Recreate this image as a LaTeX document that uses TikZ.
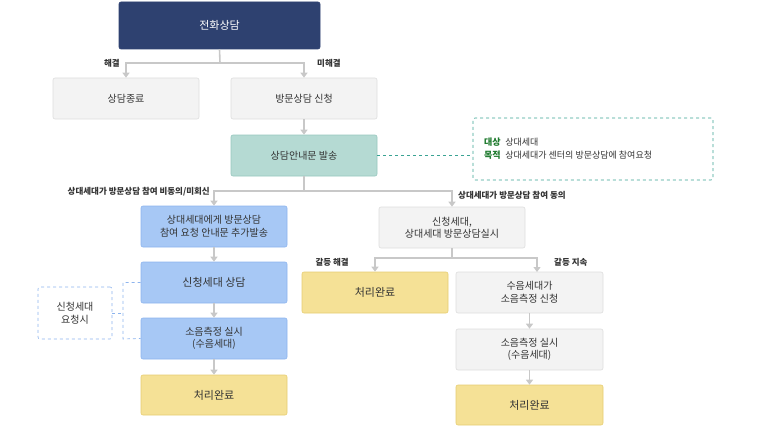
\documentclass[tikz,border=0pt]{standalone}
\usepackage{fontspec}
\setmainfont{Noto Sans CJK KR}
\usetikzlibrary{arrows.meta}
\definecolor{navy}{HTML}{2E4170}
\definecolor{gfill}{HTML}{F3F3F3}\definecolor{gline}{HTML}{DDDDDD}
\definecolor{tfill}{HTML}{B5DAD3}\definecolor{tline}{HTML}{96C7BE}
\definecolor{bfill}{HTML}{A7C8F5}\definecolor{bline}{HTML}{8DB4EE}
\definecolor{yfill}{HTML}{F5E196}\definecolor{yline}{HTML}{E6CD72}
\definecolor{arr}{HTML}{C8C8C8}\definecolor{dteal}{HTML}{3AA393}
\definecolor{dgreen}{HTML}{1E7A2E}\definecolor{txt}{HTML}{333333}
\begin{document}
\begin{tikzpicture}[x=1pt,y=-1pt,
 bx/.style={draw,rounded corners=2pt,line width=0.6pt,align=center,font=\fontsize{10}{12.5}\selectfont,text=txt,inner sep=0pt},
 gb/.style={bx,fill=gfill,draw=gline},
 tb/.style={bx,fill=tfill,draw=tline},
 bb/.style={bx,fill=bfill,draw=bline},
 yb/.style={bx,fill=yfill,draw=yline},
 ar/.style={draw=arr,line width=1.6pt,-{Triangle[width=7pt,length=5pt]}},
 ln/.style={draw=arr,line width=1.6pt},
 lab/.style={font=\bfseries\fontsize{8.5}{10}\selectfont,text=txt,inner sep=1pt}]
\useasboundingbox (0,0) rectangle (758,444);
\newcommand\bxat[6]{\node[#1,minimum width=#4-#2,minimum height=#5-#3] (#6) at ({(#2+#4)/2},{(#3+#5)/2})}
\bxat{bx,fill=navy,draw=navy}{119}{2}{320}{49}{a}{\textcolor{white}{\fontsize{11}{13}\selectfont 전화상담}};
\bxat{gb}{53}{78}{199}{119}{b}{상담종료};
\bxat{gb}{231}{78}{377}{119}{c}{방문상담 신청};
\bxat{tb}{231}{135}{377}{176}{d}{상담안내문 발송};
\bxat{bx,draw=dteal,dashed,fill=white}{473}{118}{713}{180}{info}{};
\node[anchor=west,font=\fontsize{9}{11}\selectfont,text=txt,align=left,inner sep=0pt] at (484,149) {\textcolor{dgreen}{\bfseries 대상}\enspace 상대세대\\[2pt]\textcolor{dgreen}{\bfseries 목적}\enspace 상대세대가 센터의 방문상담에 참여요청};
\bxat{bb}{141}{206}{287}{247}{e}{상대세대에게 방문상담\\참여 요청 안내문 추가발송};
\bxat{bb}{141}{262}{287}{303}{f}{\fontsize{11}{13}\selectfont 신청세대 상담};
\bxat{bb}{141}{318}{287}{359}{g}{소음측정 실시\\(수음세대)};
\bxat{yb}{141}{375}{287}{415}{h}{\fontsize{11}{13}\selectfont 처리완료};
\bxat{bx,draw=bline,dashed,fill=white}{38}{287}{112}{339}{req}{신청세대\\요청시};
\bxat{gb}{379}{207}{525}{248}{i}{신청세대,\\상대세대 방문상담실시};
\bxat{yb}{302}{272}{448}{313}{j}{\fontsize{11}{13}\selectfont 처리완료};
\bxat{gb}{456}{272}{603}{313}{k}{수음세대가\\소음측정 신청};
\bxat{gb}{456}{329}{603}{370}{l}{소음측정 실시\\(수음세대)};
\bxat{yb}{456}{385}{603}{425}{m}{\fontsize{11}{13}\selectfont 처리완료};
% top split
\coordinate (s1) at (220,63);
\draw[ln] (a.south) -- (s1);
\draw[ar] (220,63) -| (b.north);
\draw[ar] (220,63) -| (c.north);
\node[lab,anchor=east] at (121,63) {해결};
\node[lab,anchor=west] at (316,63) {미해결};
\draw[ar] (c) -- (d);
\draw[draw=dteal,dashed,line width=0.7pt] (d.east) -- (info.west|-d.east);
% second split
\draw[ln] (d.south) -- (304,191);
\draw[ar] (304,191) -| (e.north);
\draw[ar] (304,191) -| (i.north);
\node[lab,anchor=east] at (211,192) {상대세대가 방문상담 참여 비동의/미회신};
\node[lab,anchor=west] at (457,195) {상대세대가 방문상담 참여 동의};
\draw[ar] (e) -- (f);
\draw[ar] (f) -- (g);
\draw[ar] (g) -- (h);
\draw[draw=bline,dashed,line width=0.7pt] (f.west) -| (123,339) -- (g.west);
\draw[draw=bline,dashed,line width=0.7pt] (req.east) -- (123,313);
% third split
\draw[ln] (i.south) -- (452,258);
\draw[ar] (452,258) -| (j.north);
\draw[ar] (452,258) -| (537,272);
\node[lab,anchor=east] at (350,262) {갈등 해결};
\node[lab,anchor=west] at (553,262) {갈등 지속};
\draw[ar] (k) -- (l);
\draw[ar] (l) -- (m);
\end{tikzpicture}
\end{document}
